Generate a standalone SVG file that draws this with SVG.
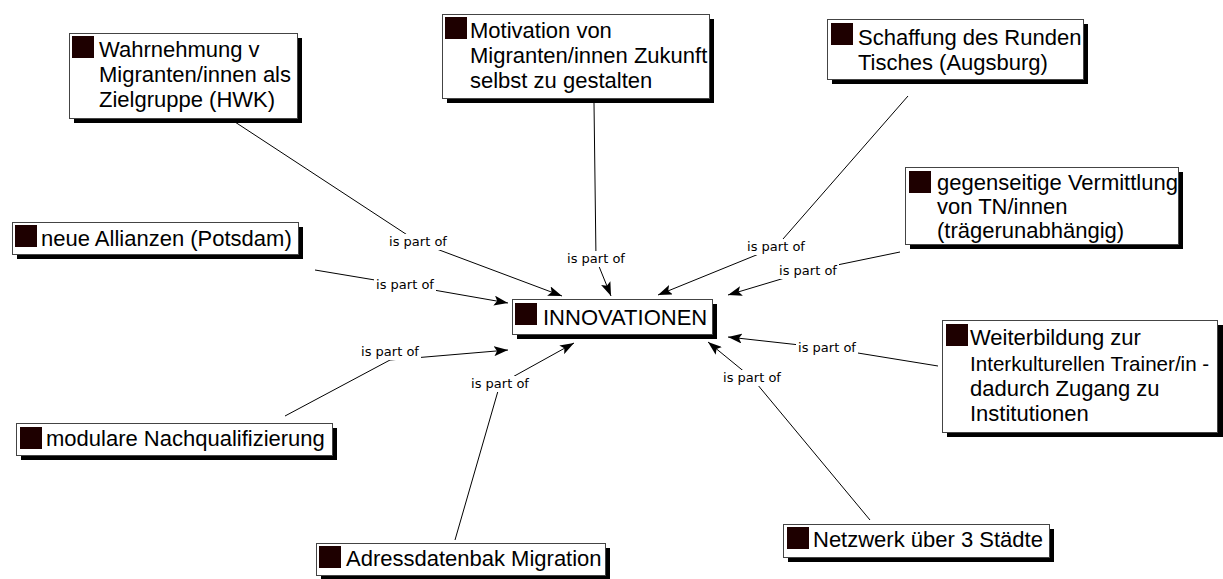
<svg xmlns="http://www.w3.org/2000/svg" width="1223" height="579" viewBox="0 0 1223 579">
<defs>
<marker id="arr" viewBox="0 0 14 10" refX="14" refY="5" markerWidth="14" markerHeight="10" orient="auto" markerUnits="userSpaceOnUse"><path d="M0,0 L14,5 L0,10 L3,5 z" fill="#000"/></marker>
<style>
.sh{fill:#000}
.bx{fill:#fff;stroke:#444;stroke-width:1}
.ic{fill:#1e0000}
.t{font-family:"Liberation Sans",Arial,sans-serif;font-size:22px;fill:#000}
.ts{font-size:20.6px}
.ln{stroke:#000;stroke-width:1;fill:none}
.lb{font-family:"DejaVu Sans",Verdana,sans-serif;font-size:13px;fill:#000;text-anchor:middle}
.lbg{fill:#fff}
</style>
</defs>
<rect width="1223" height="579" fill="#fff"/>
<g id="connectors">
<path class="ln" d="M235,122 L418,242"/><path class="ln" d="M418,242 L562,296" marker-end="url(#arr)"/>
<path class="ln" d="M594,103 L596,259"/><path class="ln" d="M596,259 L611,296" marker-end="url(#arr)"/>
<path class="ln" d="M908,96 L776,247"/><path class="ln" d="M776,247 L658,295" marker-end="url(#arr)"/>
<path class="ln" d="M900,252 L808,271"/><path class="ln" d="M808,271 L728,295" marker-end="url(#arr)"/>
<path class="ln" d="M315,270 L405,285"/><path class="ln" d="M405,285 L508,303" marker-end="url(#arr)"/>
<path class="ln" d="M938,366 L827,348"/><path class="ln" d="M827,348 L728,337" marker-end="url(#arr)"/>
<path class="ln" d="M285,416 L390,360"/><path class="ln" d="M390,360 L508,350" marker-end="url(#arr)"/>
<path class="ln" d="M455,540 L500,384"/><path class="ln" d="M500,384 L574,343" marker-end="url(#arr)"/>
<path class="ln" d="M870,520 L752,378"/><path class="ln" d="M752,378 L708,342" marker-end="url(#arr)"/>
<rect class="lbg" x="387" y="234" width="62" height="16"/><text class="lb" x="418" y="246">is part of</text>
<rect class="lbg" x="565" y="251" width="62" height="16"/><text class="lb" x="596" y="263">is part of</text>
<rect class="lbg" x="745" y="239" width="62" height="16"/><text class="lb" x="776" y="251">is part of</text>
<rect class="lbg" x="777" y="263" width="62" height="16"/><text class="lb" x="808" y="275">is part of</text>
<rect class="lbg" x="374" y="277" width="62" height="16"/><text class="lb" x="405" y="289">is part of</text>
<rect class="lbg" x="796" y="340" width="62" height="16"/><text class="lb" x="827" y="352">is part of</text>
<rect class="lbg" x="359" y="344" width="62" height="16"/><text class="lb" x="390" y="356">is part of</text>
<rect class="lbg" x="469" y="376" width="62" height="16"/><text class="lb" x="500" y="388">is part of</text>
<rect class="lbg" x="721" y="370" width="62" height="16"/><text class="lb" x="752" y="382">is part of</text>
</g>
<g id="n1"><rect class="sh" x="74" y="38" width="228" height="85"/><rect class="bx" x="69.5" y="33.5" width="228" height="85"/><rect class="ic" x="72" y="36" width="22" height="22"/><text class="t" x="99" y="57">Wahrnehmung v</text><text class="t" x="99" y="82">Migranten/innen als</text><text class="t" x="99" y="107">Zielgruppe (HWK)</text></g>
<g id="n2"><rect class="sh" x="447" y="19" width="267" height="84"/><rect class="bx" x="442.5" y="14.5" width="267" height="84"/><rect class="ic" x="445" y="17" width="22" height="22"/><text class="t" x="470" y="38">Motivation von</text><text class="t" x="470" y="63">Migranten/innen Zukunft</text><text class="t" x="470" y="88">selbst zu gestalten</text></g>
<g id="n3"><rect class="sh" x="832" y="24" width="256" height="60"/><rect class="bx" x="827.5" y="19.5" width="256" height="60"/><rect class="ic" x="831" y="23" width="22" height="22"/><text class="t" x="858" y="45">Schaffung des Runden</text><text class="t" x="858" y="70">Tisches (Augsburg)</text></g>
<g id="n4"><rect class="sh" x="910" y="172" width="273" height="77"/><rect class="bx" x="905.5" y="167.5" width="273" height="77"/><rect class="ic" x="909" y="171" width="22" height="22"/><text class="t" x="937" y="190">gegenseitige Vermittlung</text><text class="t" x="937" y="214">von TN/innen</text><text class="t" x="937" y="238">(trägerunabhängig)</text></g>
<g id="n5"><rect class="sh" x="947" y="325" width="276" height="112"/><rect class="bx" x="942.5" y="320.5" width="275" height="112"/><rect class="ic" x="946" y="324" width="22" height="22"/><text class="t" x="970" y="345">Weiterbildung zur</text><text class="t ts" x="970" y="371">Interkulturellen Trainer/in -</text><text class="t" x="970" y="396">dadurch Zugang zu</text><text class="t" x="970" y="421">Institutionen</text></g>
<g id="n6"><rect class="sh" x="517" y="304" width="200" height="35"/><rect class="bx" x="512.5" y="299.5" width="200" height="35"/><rect class="ic" x="515" y="303" width="22" height="22"/><text class="t" x="543" y="325">INNOVATIONEN</text></g>
<g id="n7"><rect class="sh" x="17" y="227" width="286" height="32"/><rect class="bx" x="12.5" y="222.5" width="286" height="32"/><rect class="ic" x="15" y="225" width="22" height="22"/><text class="t" x="41" y="246">neue Allianzen (Potsdam)</text></g>
<g id="n8"><rect class="sh" x="21" y="428" width="316" height="32"/><rect class="bx" x="16.5" y="423.5" width="316" height="32"/><rect class="ic" x="20" y="427" width="22" height="22"/><text class="t" x="46" y="446">modulare Nachqualifizierung</text></g>
<g id="n9"><rect class="sh" x="321" y="548" width="289" height="32"/><rect class="bx" x="316.5" y="543.5" width="289" height="32"/><rect class="ic" x="319" y="546" width="22" height="22"/><text class="t" x="346" y="566">Adressdatenbak Migration</text></g>
<g id="n10"><rect class="sh" x="788" y="529" width="266" height="33"/><rect class="bx" x="783.5" y="524.5" width="266" height="33"/><rect class="ic" x="787" y="527" width="22" height="22"/><text class="t" x="813" y="547">Netzwerk über 3 Städte</text></g>
</svg>
